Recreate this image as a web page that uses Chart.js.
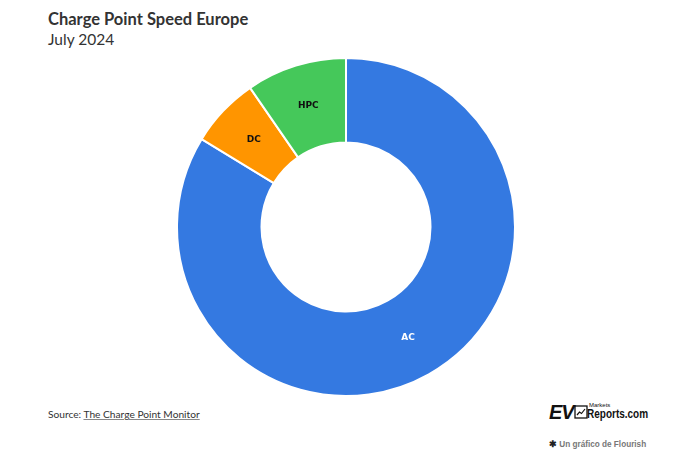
<!DOCTYPE html>
<html>
<head>
<meta charset="utf-8">
<script src="https://cdn.jsdelivr.net/npm/chart.js@4"></script>
<style>
  body { margin: 0; background: #fff; font-family: Lato, "Open Sans", sans-serif; color: #333; }
  #page { position: relative; width: 675px; height: 467px; overflow: hidden; }
  #title { position: absolute; left: 48px; top: 9px; font-size: 16.5px; font-weight: 700; color: #333; }
  #subtitle { position: absolute; left: 48px; top: 30px; font-size: 15.5px; color: #333; }
  #chartBox { position: absolute; left: 176px; top: 57px; width: 340px; height: 340px; }
  #source { position: absolute; left: 48px; top: 408px; font-size: 10.2px; color: #333; }
  #source a { color: #333; text-decoration: underline; text-decoration-color: #888; }
  #ev { position: absolute; left: 549px; top: 401px; font-family: "Liberation Sans", Arial, sans-serif; font-size: 20px; font-weight: 700; font-style: italic; color: #111; letter-spacing: -1px; }
  #icon { position: absolute; left: 574px; top: 405px; }
  #mk { position: absolute; left: 589px; top: 402px; font-family: "Liberation Sans", Arial, sans-serif; font-size: 6px; color: #111; }
  #rp { position: absolute; left: 587px; top: 407px; font-family: "Liberation Sans", Arial, sans-serif; font-size: 12.5px; font-weight: 700; color: #111; transform: scaleX(0.8); transform-origin: left top; }
  #flourish { position: absolute; left: 549px; top: 439px; font-family: "Liberation Sans", Arial, sans-serif; font-size: 8.2px; color: #777; font-weight: 700; }
  #flourish span { color: #222; font-size: 9px; }
</style>
</head>
<body>
<div id="page">
  <div id="title">Charge Point Speed Europe</div>
  <div id="subtitle">July 2024</div>
  <div id="chartBox"><canvas id="speedChart"></canvas></div>
  <div id="source">Source: <a>The Charge Point Monitor</a></div>
  <div id="ev">EV</div>
  <svg id="icon" width="14" height="14" viewBox="0 0 14 14">
    <rect x="1" y="1" width="12" height="12" fill="none" stroke="#111" stroke-width="1.3"/>
    <polyline points="3,10 5.5,7 7.5,8.5 11,4" fill="none" stroke="#111" stroke-width="1.2"/>
  </svg>
  <div id="mk">Markets</div>
  <div id="rp">Reports.com</div>
  <div id="flourish"><span>&#10033;</span> Un gráfico de Flourish</div>
</div>
<script>
// datos (porcentaje aproximado)
const categories = ['AC', 'DC', 'HPC'];
const shares = [83.7, 6.7, 9.6];
const sliceColors = ['#3479e1', '#ff9500', '#45c85a'];
const labelColors = ['#ffffff', '#111111', '#111111'];

// dibuja el nombre de cada porcion en su centro
const sliceLabels = {
    id: 'sliceLabels',
    afterDatasetsDraw(chart) {
        const ctx = chart.ctx;
        const meta = chart.getDatasetMeta(0);
        ctx.save();
        ctx.font = 'bold 9px "DejaVu Sans", sans-serif';
        ctx.textAlign = 'center';
        ctx.textBaseline = 'middle';
        meta.data.forEach(function(arc, i) {
            const p = arc.tooltipPosition();
            ctx.fillStyle = labelColors[i];
            ctx.fillText(categories[i], p.x, p.y);
        });
        ctx.restore();
    }
};

document.addEventListener('DOMContentLoaded', function() {
    const ctx = document.getElementById('speedChart').getContext('2d');
    new Chart(ctx, {
        type: 'doughnut',
        data: {
            labels: categories,
            datasets: [{
                data: shares,
                backgroundColor: sliceColors,
                borderColor: '#ffffff',
                borderWidth: 2,
                hoverBorderWidth: 2
            }]
        },
        options: {
            responsive: true,
            maintainAspectRatio: false,
            animation: false,
            cutout: '50%',
            layout: { padding: 0 },
            plugins: {
                legend: { display: false },
                tooltip: { enabled: false }
            }
        },
        plugins: [sliceLabels]
    });
});
</script>
</body>
</html>
